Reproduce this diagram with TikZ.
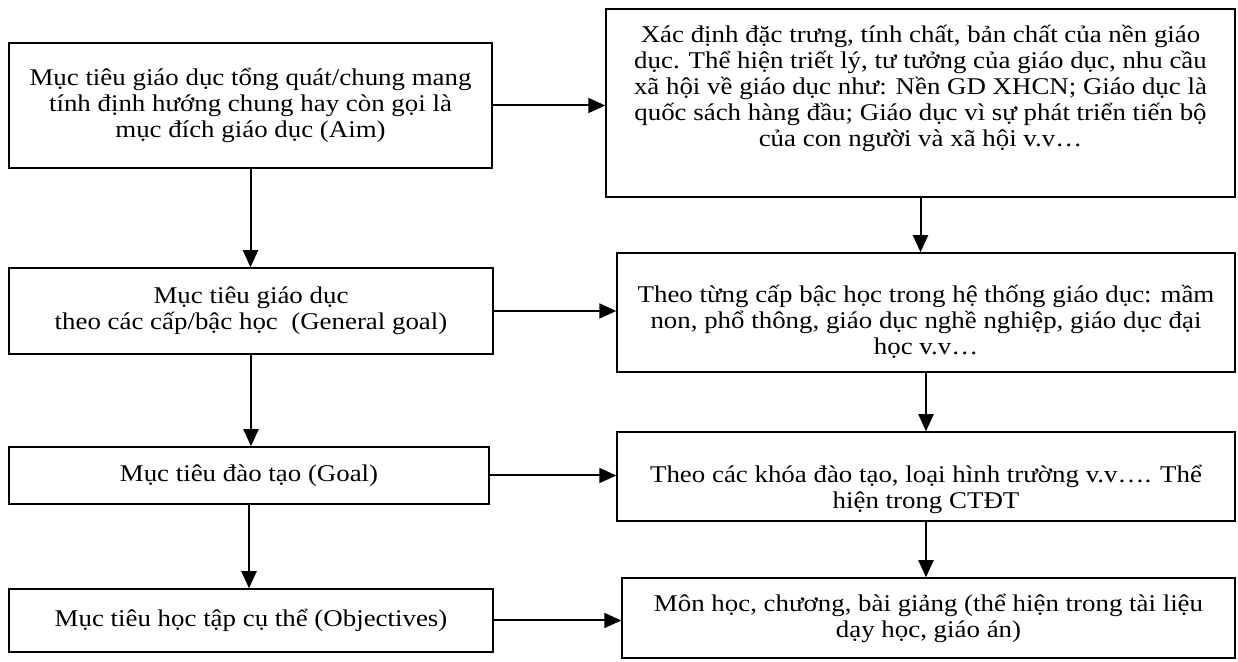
\documentclass[tikz,border=0pt]{standalone}
\usepackage{fontspec}
\setmainfont{Liberation Serif}[FakeStretch=1.12]
\usepackage{tikz}
\usetikzlibrary{arrows.meta}

\begin{document}
\begin{tikzpicture}[x=0.5pt, y=-0.5pt,
  goalbox/.style={draw, line width=0.75pt, inner sep=0pt, align=center, font=\fontsize{12}{13}\selectfont},
  flow/.style={line width=1pt, -{Triangle[length=8.5pt, width=7.5pt]}}]
\useasboundingbox (0,0) rectangle (1238,662);
\node[goalbox, minimum width=241.5pt, minimum height=62.5pt] (aim) at (250.5,105.5) {Mục tiêu giáo dục tổng quát/chung mang\\tính định hướng chung hay còn gọi là\\mục đích giáo dục (Aim)};
\node[goalbox, minimum width=242pt, minimum height=43pt] (general) at (251,311) {Mục tiêu giáo dục\\theo các cấp/bậc học~ (General goal)};
\node[goalbox, minimum width=240pt, minimum height=28.5pt] (goal) at (249,475.5) {Mục tiêu đào tạo (Goal)};
\node[goalbox, minimum width=242pt, minimum height=31.5pt] (objectives) at (251,620.5) {Mục tiêu học tập cụ thể (Objectives)};
\node[goalbox, minimum width=314.5pt, minimum height=94pt] (aimdesc) at (920.5,103) {Xác định đặc trưng, tính chất, bản chất của nền giáo\\dục. Thể hiện triết lý, tư tưởng của giáo dục, nhu cầu\\xã hội về giáo dục như: Nền GD XHCN; Giáo dục là\\quốc sách hàng đầu; Giáo dục vì sự phát triển tiến bộ\\của con người và xã hội v.v…\\[4pt]\mbox{}};
\node[goalbox, minimum width=309pt, minimum height=59.5pt] (generaldesc) at (926,312.5) {\mbox{}\\[5pt]Theo từng cấp bậc học trong hệ thống giáo dục: mầm\\non, phổ thông, giáo dục nghề nghiệp, giáo dục đại\\học v.v…};
\node[goalbox, minimum width=309pt, minimum height=44.5pt] (goaldesc) at (926,476.5) {\mbox{}\\[9pt]Theo các khóa đào tạo, loại hình trường v.v…. Thể\\hiện trong CTĐT};
\node[goalbox, minimum width=306.5pt, minimum height=40pt] (objdesc) at (928.5,618) {Môn học, chương, bài giảng (thể hiện trong tài liệu\\dạy học, giáo án)};
\draw[flow] (aim.south) -- (aim.south |- general.north);
\draw[flow] (general.south) -- (general.south |- goal.north);
\draw[flow] (goal.south) -- (goal.south |- objectives.north);
\draw[flow] (aimdesc.south) -- (aimdesc.south |- generaldesc.north);
\draw[flow] (generaldesc.south) -- (generaldesc.south |- goaldesc.north);
\draw[flow] (goaldesc.south) -- (goaldesc.south |- objdesc.north);
\draw[flow] (aim.east) -- (aim.east -| aimdesc.west);
\draw[flow] (general.east) -- (general.east -| generaldesc.west);
\draw[flow] (goal.east) -- (goal.east -| goaldesc.west);
\draw[flow] (objectives.east) -- (objectives.east -| objdesc.west);
\end{tikzpicture}
\end{document}
